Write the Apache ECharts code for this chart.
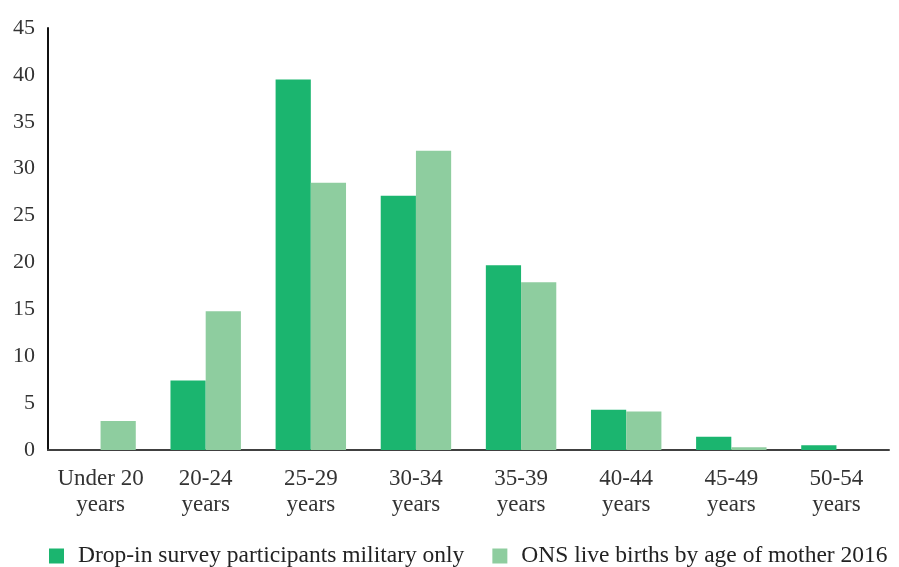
<!DOCTYPE html>
<html>
<head>
<meta charset="utf-8">
<script src="https://cdn.jsdelivr.net/npm/echarts@6/dist/echarts.min.js"></script>
<style>
  html, body { margin: 0; padding: 0; background: #ffffff; }
  #chart { width: 899px; height: 567px; }
</style>
</head>
<body>
<div id="chart"></div>
<script>
// Age bands of mother at birth
const categories = ['Under 20\nyears', '20-24\nyears', '25-29\nyears', '30-34\nyears',
                    '35-39\nyears', '40-44\nyears', '45-49\nyears', '50-54\nyears'];

// Percentage of births per age band
const seriesNames = ['Drop-in survey participants military only', 'ONS live births by age of mother 2016'];
const militaryValues = [0, 7.4, 39.5, 27.1, 19.7, 4.3, 1.4, 0.5];
const onsValues = [3.1, 14.8, 28.5, 31.9, 17.9, 4.1, 0.3, 0];

const yTicks = { min: 0, max: 45, interval: 5 };

const FONT = '"Liberation Serif", "DejaVu Serif", serif';
const DARK = '#1bb56f';
const LIGHT = '#8ecd9f';

const chart = echarts.init(document.getElementById('chart'), null, { renderer: 'canvas' });

chart.setOption({
  animation: false,
  backgroundColor: '#ffffff',
  grid: { left: 48, right: 10, top: 28, bottom: 117, containLabel: false },
  legend: {
    left: 49,
    top: 544,
    padding: 0,
    itemWidth: 15,
    itemHeight: 15,
    itemGap: 28,
    icon: 'rect',
    textStyle: { fontFamily: FONT, fontSize: 23.5, color: '#222222', padding: [0, 0, 0, 9] },
    data: seriesNames
  },
  xAxis: {
    type: 'category',
    data: categories,
    axisLine: { show: true, lineStyle: { color: '#404040', width: 2 } },
    axisTick: { show: false },
    axisLabel: {
      fontFamily: FONT, fontSize: 23, color: '#333333',
      lineHeight: 26, margin: 16, interval: 0
    },
    splitLine: { show: false }
  },
  yAxis: {
    type: 'value',
    min: yTicks.min,
    max: yTicks.max,
    interval: yTicks.interval,
    axisLine: { show: true, lineStyle: { color: '#111111', width: 2 } },
    axisTick: { show: false },
    axisLabel: { fontFamily: FONT, fontSize: 22, color: '#333333', margin: 13 },
    splitLine: { show: false }
  },
  series: [
    {
      name: seriesNames[0],
      type: 'bar',
      data: militaryValues,
      itemStyle: { color: DARK },
      barGap: '0%',
      barCategoryGap: '33%'
    },
    {
      name: seriesNames[1],
      type: 'bar',
      data: onsValues,
      itemStyle: { color: LIGHT },
      barGap: '0%',
      barCategoryGap: '33%'
    }
  ]
});
</script>
</body>
</html>
